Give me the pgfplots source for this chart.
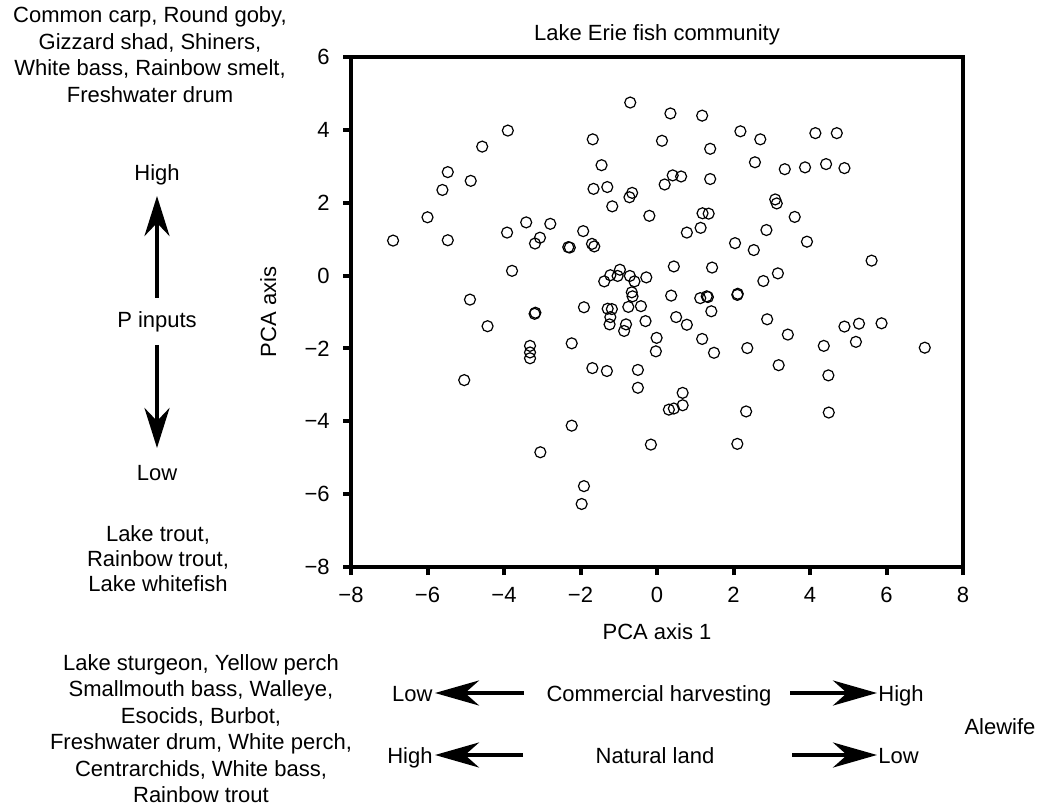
\documentclass[border=0pt]{standalone}
\usepackage{fontspec}
\setmainfont{Liberation Sans}
\usepackage{pgfplots}
\pgfplotsset{compat=1.18}
\usetikzlibrary{arrows.meta}

\begin{document}
\begin{tikzpicture}[font=\fontsize{11}{13}\selectfont]
\useasboundingbox (0,0) rectangle (519pt,-403.5pt);
\begin{axis}[
  at={(175.5pt,-283.5pt)}, anchor=south west,
  scale only axis, width=306pt, height=255pt,
  xmin=-8, xmax=8, ymin=-8, ymax=6,
  xtick={-8,-6,...,8}, ytick={-8,-6,...,6},
  xticklabels={−8,−6,−4,−2,0,2,4,6,8},
  yticklabels={−8,−6,−4,−2,0,2,4,6},
  tick align=outside, xtick pos=bottom, ytick pos=left,
  axis line style={line width=2.2pt},
  major tick length=4pt,
  major tick style={line width=2pt, black},
  xticklabel style={inner sep=0pt, anchor=north},
  yticklabel style={inner sep=0pt, anchor=east},
  xticklabel shift=6pt, yticklabel shift=6.5pt,
  title={Lake Erie fish community},
  every axis title shift=0pt,
  title style={at={(axis description cs:0.5,1.0314)}, anchor=base, inner sep=0pt},
  xlabel={PCA axis 1},
  xlabel style={at={(axis description cs:0.5,-0.1431)}, anchor=base, inner sep=0pt},
  ylabel={PCA axis},
  ylabel style={at={(axis description cs:-0.1225,0.5)}, anchor=base, inner sep=0pt},
]
\addplot[only marks, mark=o, mark size=2.75pt, mark options={line width=0.6pt, black}] table {
x y
-0.70 4.75
-3.90 3.98
-1.68 3.74
0.13 3.70
-4.57 3.54
-1.45 3.03
-5.47 2.84
-4.87 2.60
-5.61 2.35
-1.66 2.38
-1.30 2.43
-0.65 2.27
-0.72 2.15
0.41 2.75
0.63 2.72
0.20 2.50
-1.17 1.90
-6.00 1.60
-0.20 1.64
-3.42 1.46
-2.79 1.42
-3.92 1.18
-1.93 1.22
-6.90 0.96
-5.47 0.97
-3.06 1.04
-3.19 0.88
-2.32 0.78
-2.28 0.77
-1.70 0.87
-1.64 0.80
-3.79 0.13
-0.97 0.16
-1.22 0.01
-1.38 -0.16
-1.03 -0.01
-0.71 -0.01
-0.59 -0.16
-0.28 -0.05
-0.66 -0.46
-0.64 -0.57
-4.89 -0.66
-3.18 -1.02
-3.20 -1.05
-1.91 -0.87
-1.29 -0.91
-1.18 -0.92
-0.75 -0.86
-0.42 -0.84
-1.22 -1.14
-1.24 -1.34
-0.81 -1.34
-0.86 -1.52
-0.30 -1.25
-0.01 -1.71
-0.03 -2.08
-4.43 -1.39
-3.32 -1.93
-3.32 -2.11
-3.32 -2.27
-2.23 -1.86
-5.04 -2.87
-1.69 -2.54
-1.31 -2.62
-0.50 -2.59
-0.50 -3.08
-2.23 -4.12
-0.16 -4.64
-3.05 -4.85
-1.91 -5.78
-1.97 -6.27
0.35 4.45
1.18 4.39
2.18 3.96
4.14 3.91
4.70 3.91
2.70 3.74
1.39 3.48
2.56 3.11
3.34 2.92
3.87 2.97
4.42 3.06
4.90 2.95
1.39 2.65
3.09 2.09
3.13 1.98
1.19 1.71
1.35 1.70
3.60 1.61
1.14 1.31
0.78 1.18
2.86 1.25
2.04 0.89
2.53 0.70
3.92 0.93
5.61 0.41
0.44 0.25
1.44 0.22
2.78 -0.15
3.16 0.06
0.37 -0.55
1.13 -0.62
1.33 -0.59
1.30 -0.57
2.11 -0.50
2.10 -0.53
0.50 -1.14
1.42 -0.98
2.88 -1.20
0.78 -1.35
1.18 -1.74
1.49 -2.12
3.42 -1.62
2.36 -1.99
3.18 -2.46
4.36 -1.93
4.90 -1.40
5.28 -1.32
5.87 -1.31
5.20 -1.82
7.00 -1.98
4.48 -2.74
0.67 -3.22
0.67 -3.56
0.31 -3.68
0.44 -3.65
2.33 -3.73
4.49 -3.76
2.10 -4.62
};
\end{axis}

% annotations, in pixel units of the reference (y downwards)
\begin{scope}[x=0.5pt, y=-0.5pt, every node/.style={inner sep=0pt, anchor=base}]
  % top left species
  \node at (150,23) {Common carp, Round goby,};
  \node at (150,50) {Gizzard shad, Shiners,};
  \node at (150,76) {White bass, Rainbow smelt,};
  \node at (150,103) {Freshwater drum};
  % P inputs
  \node at (157,181) {High};
  \node at (157,328) {P inputs};
  \node at (157,480) {Low};
  \draw[line width=2pt, -{Stealth[length=20pt, width=12.5pt, inset=6.5pt]}] (157,298) -- (157,196);
  \draw[line width=2pt, -{Stealth[length=20pt, width=12.5pt, inset=6.5pt]}] (157,345) -- (157,448);
  % lower left species
  \node at (158,541) {Lake trout,};
  \node at (158,566) {Rainbow trout,};
  \node at (158,591) {Lake whitefish};
  % bottom species
  \node at (201,670) {Lake sturgeon, Yellow perch};
  \node at (201,696.5) {Smallmouth bass, Walleye,};
  \node at (201,723) {Esocids, Burbot,};
  \node at (201,749.5) {Freshwater drum, White perch,};
  \node at (201,776) {Centrarchids, White bass,};
  \node at (201,802) {Rainbow trout};
  % bottom arrows
  \node[anchor=base east] at (433,701) {Low};
  \node at (659,701) {Commercial harvesting};
  \node[anchor=base west] at (878,701) {High};
  \node[anchor=base east] at (433,763) {High};
  \node at (655,763) {Natural land};
  \node[anchor=base west] at (878,763) {Low};
  \draw[line width=2pt, -{Stealth[length=22pt, width=12.5pt, inset=7pt]}] (524,693) -- (435,693);
  \draw[line width=2pt, -{Stealth[length=22pt, width=12.5pt, inset=7pt]}] (790,693) -- (877,693);
  \draw[line width=2pt, -{Stealth[length=22pt, width=12.5pt, inset=7pt]}] (523,755) -- (435,755);
  \draw[line width=2pt, -{Stealth[length=22pt, width=12.5pt, inset=7pt]}] (792,755) -- (877,755);
  \node at (1000,734) {Alewife};
\end{scope}
\end{tikzpicture}
\end{document}
